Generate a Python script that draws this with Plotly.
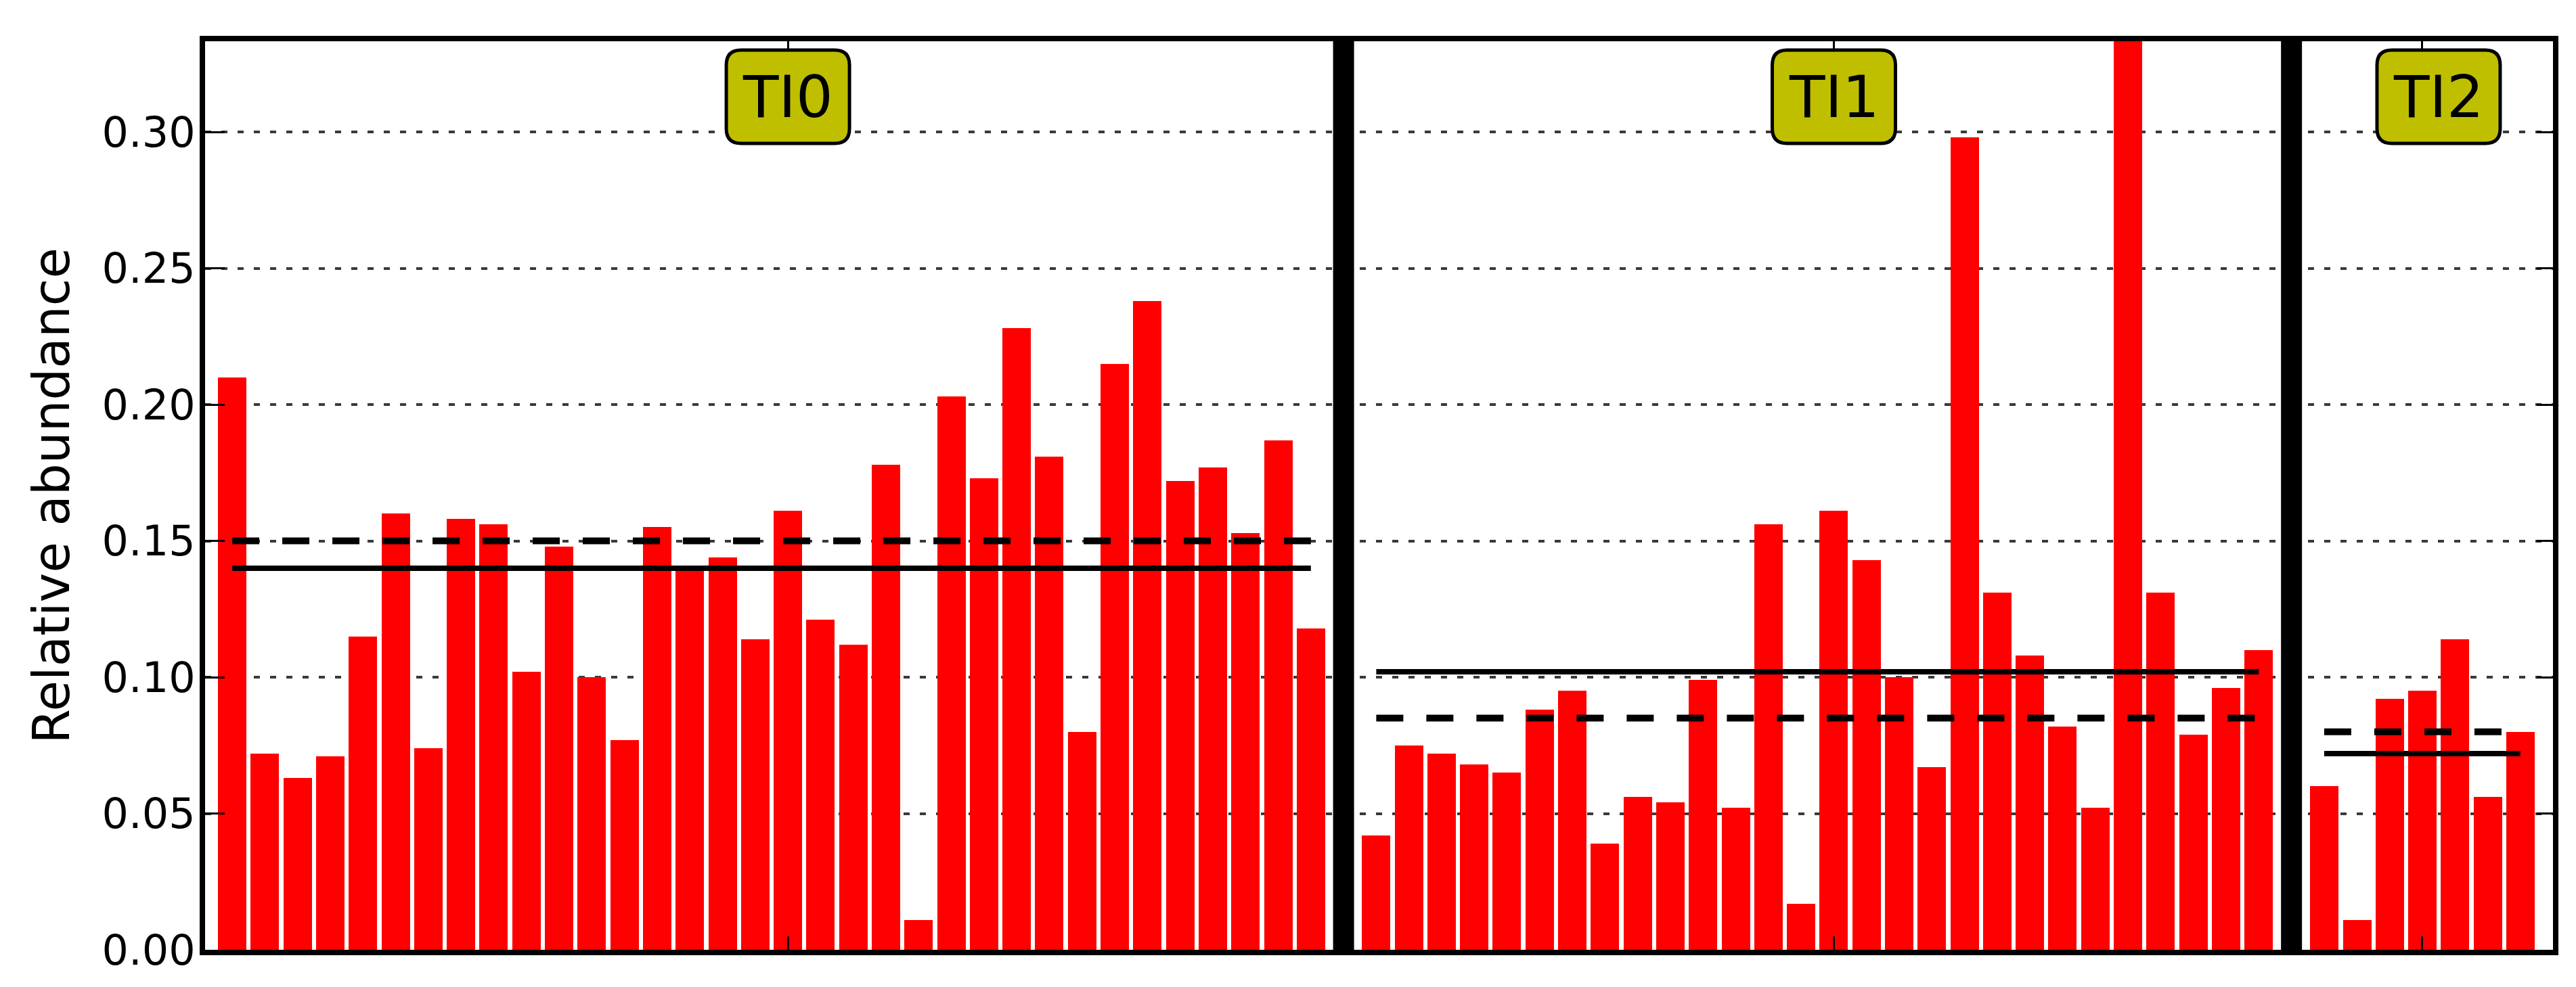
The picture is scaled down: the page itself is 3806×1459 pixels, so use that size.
import plotly.graph_objects as go

# Relative abundance per sample, one list per panel
PANEL_LABELS = ["TI0", "TI1", "TI2"]
TI0_VALUES = [
    0.210, 0.072, 0.063, 0.071, 0.115, 0.160, 0.074, 0.158, 0.156, 0.102,
    0.148, 0.100, 0.077, 0.155, 0.139, 0.144, 0.114, 0.161, 0.121, 0.112,
    0.178, 0.011, 0.203, 0.173, 0.228, 0.181, 0.080, 0.215, 0.238, 0.172,
    0.177, 0.153, 0.187, 0.118,
]
TI1_VALUES = [
    0.042, 0.075, 0.072, 0.068, 0.065, 0.088, 0.095, 0.039, 0.056, 0.054,
    0.099, 0.052, 0.156, 0.017, 0.161, 0.143, 0.100, 0.067, 0.298, 0.131,
    0.108, 0.082, 0.052, 0.360, 0.131, 0.079, 0.096, 0.110,
]
TI2_VALUES = [0.060, 0.011, 0.092, 0.095, 0.114, 0.056, 0.080]

# Horizontal reference levels per panel
SOLID_LEVELS = [0.140, 0.102, 0.072]
DASHED_LEVELS = [0.150, 0.085, 0.080]

Y_TICKS = [0.00, 0.05, 0.10, 0.15, 0.20, 0.25, 0.30]
Y_MAX = 0.3333

PANELS = [TI0_VALUES, TI1_VALUES, TI2_VALUES]
X_RANGES = [[-0.83, 34.0], [-1.0, 28.0], [-1.0, 7.0]]

FONT = "DejaVu Sans"
BAR_RED = "#ff0000"
BOX_OLIVE = "#bfbf00"
GRID_DASH = "9px,15px"

W, H = 3806, 1459
MARGIN = dict(l=295, r=42, t=53, b=63)


def _rounded_box_path(width, height, top, radius):
    """Rounded rectangle path in pixels, centred on x=0, hanging below y=top."""
    hw = width / 2
    y0 = -top
    y1 = -(top + height)
    r = radius
    return (
        f"M {-hw + r},{y0} L {hw - r},{y0} Q {hw},{y0} {hw},{y0 - r} "
        f"L {hw},{y1 + r} Q {hw},{y1} {hw - r},{y1} "
        f"L {-hw + r},{y1} Q {-hw},{y1} {-hw},{y1 + r} "
        f"L {-hw},{y0 - r} Q {-hw},{y0} {-hw + r},{y0} Z"
    )


spans = [r[1] - r[0] for r in X_RANGES]
total = sum(spans)
edges = [0.0]
for s in spans:
    edges.append(edges[-1] + s / total)
edges[-1] = 1.0

fig = go.Figure()
shapes = []
annotations = []

for i, (values, label) in enumerate(zip(PANELS, PANEL_LABELS)):
    suffix = "" if i == 0 else str(i + 1)
    xref, yref = "x" + suffix, "y" + suffix
    n = len(values)
    idx = list(range(n))

    fig.add_trace(
        go.Bar(
            x=idx,
            y=values,
            width=0.87,
            marker=dict(color=BAR_RED, line=dict(width=0)),
            xaxis=xref,
            yaxis=yref,
            showlegend=False,
        )
    )
    fig.add_trace(
        go.Scatter(
            x=[0, n - 1],
            y=[SOLID_LEVELS[i]] * 2,
            mode="lines",
            line=dict(color="black", width=8),
            xaxis=xref,
            yaxis=yref,
            showlegend=False,
        )
    )
    fig.add_trace(
        go.Scatter(
            x=[0, n - 1],
            y=[DASHED_LEVELS[i]] * 2,
            mode="lines",
            line=dict(color="black", width=10, dash="40px,34px"),
            xaxis=xref,
            yaxis=yref,
            showlegend=False,
        )
    )

    # panel label in a rounded olive box
    shapes.append(
        dict(
            type="path",
            xref=xref,
            yref=yref,
            xsizemode="pixel",
            ysizemode="pixel",
            xanchor=n / 2,
            yanchor=Y_MAX,
            path=_rounded_box_path(182, 138, 13, 22),
            fillcolor=BOX_OLIVE,
            line=dict(color="black", width=5),
            layer="above",
        )
    )
    annotations.append(
        dict(
            x=n / 2,
            y=Y_MAX,
            xref=xref,
            yref=yref,
            text=label,
            showarrow=False,
            xanchor="center",
            yanchor="middle",
            yshift=-82,
            font=dict(family=FONT, size=86, color="black"),
        )
    )

    x_axis = dict(
        domain=[edges[i], edges[i + 1]],
        range=X_RANGES[i],
        anchor=yref,
        showgrid=False,
        zeroline=False,
        showticklabels=False,
        tickmode="array",
        tickvals=[n // 2],
        ticks="inside",
        ticklen=20,
        tickwidth=3,
        tickcolor="black",
        showline=True,
        linewidth=8,
        linecolor="black",
        mirror="ticks",
    )
    y_axis = dict(
        domain=[0, 1],
        range=[0, Y_MAX],
        anchor=xref,
        showgrid=True,
        gridcolor="#3a3a3a",
        gridwidth=3.5,
        griddash=GRID_DASH,
        zeroline=False,
        tickmode="array",
        tickvals=Y_TICKS,
        showline=True,
        linewidth=8,
        linecolor="black",
        mirror=True,
    )
    if i == 0:
        y_axis.update(
            ticks="inside",
            ticklen=29,
            tickwidth=3,
            tickcolor="black",
            tickformat=".2f",
            ticklabelstandoff=-6,
            tickfont=dict(family=FONT, size=62, color="black"),
        )
    else:
        y_axis.update(matches="y")
        if i == len(PANELS) - 1:
            y_axis.update(
                side="right",
                ticks="inside",
                ticklen=24,
                tickwidth=3,
                tickcolor="black",
                showticklabels=False,
            )
        else:
            y_axis.update(ticks="", showticklabels=False)

    fig.update_layout({"xaxis" + suffix: x_axis, "yaxis" + suffix: y_axis})

# thick black separators between the panels
for edge in edges[1:-1]:
    shapes.append(
        dict(
            type="line",
            xref="paper",
            yref="paper",
            x0=edge,
            x1=edge,
            y0=0,
            y1=1,
            line=dict(color="black", width=31),
            layer="above",
        )
    )

annotations.append(
    dict(
        x=0,
        y=0.5,
        xref="paper",
        yref="paper",
        xshift=-228,
        text="Relative abundance",
        textangle=-90,
        showarrow=False,
        xanchor="center",
        yanchor="middle",
        font=dict(family=FONT, size=74, color="black"),
    )
)

fig.update_layout(
    width=W,
    height=H,
    margin=MARGIN,
    paper_bgcolor="white",
    plot_bgcolor="white",
    bargap=0,
    shapes=shapes,
    annotations=annotations,
    font=dict(family=FONT, color="black"),
)

fig.write_html("out.html")
